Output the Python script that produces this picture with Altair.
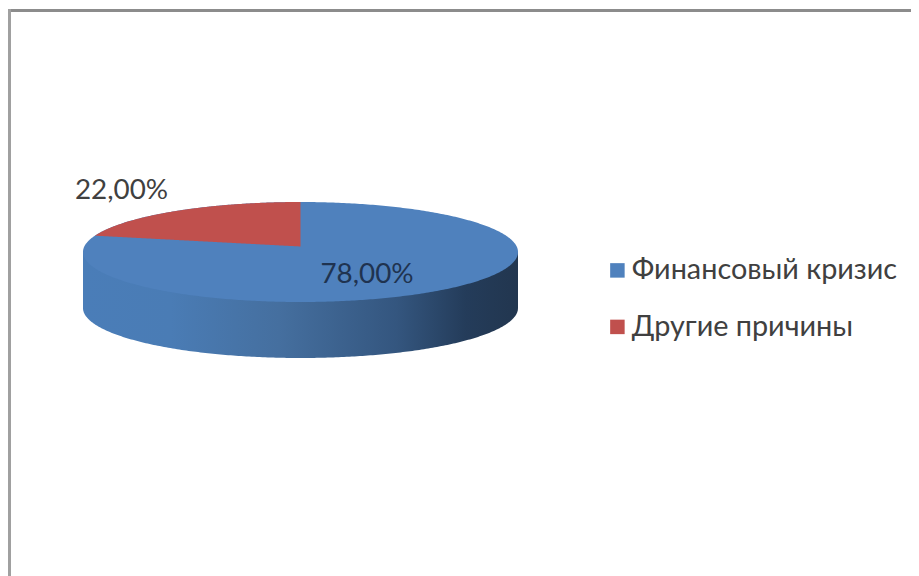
import math
import altair as alt
import pandas as pd

categories = ["Финансовый кризис", "Другие причины"]
values = [78.0, 22.0]
labels = ["78,00%", "22,00%"]
colors = ["#4f81bd", "#c0504d"]

W, H = 903, 568
CX, CY, RX, RY = 292.5, 244.0, 217.5, 50.0   # ellipse centre and radii in plot pixels
DEPTH = 1.12   # side height in ellipse units
TIP = 0.11     # perspective offset of the pie centre
FONT = "Lato"

x_scale = alt.Scale(domain=[-CX / RX, (W - CX) / RX], range=[0, W])
y_scale = alt.Scale(domain=[-(H - CY) / RY, CY / RY], range=[H, 0])

color = alt.Color(
    "cat:N",
    scale=alt.Scale(domain=categories, range=colors),
    legend=alt.Legend(
        orient="none", legendX=595, legendY=248, title=None,
        symbolType="square", symbolSize=210, symbolStrokeWidth=0, symbolOpacity=1,
        labelFont=FONT, labelFontSize=28.8, labelColor="#404040",
        labelOffset=0, rowPadding=26.5, labelLimit=400,
    ),
)

seq = alt.sequence(0, 1.0001, 0.004, as_="f")
X = alt.X("x:Q", scale=x_scale, axis=None)
Y = alt.Y("top:Q", scale=y_scale, axis=None, stack=None)

side = (
    alt.Chart(seq)
    .transform_calculate(x="cos(PI*datum.f)")
    .transform_calculate(top="0", low=f"-{DEPTH}-sqrt(max(0,1-datum.x*datum.x))")
    .mark_area(
        color=alt.Gradient(
            gradient="linear", x1=0, x2=1, y1=0, y2=0,
            stops=[
                alt.GradientStop(color="#4a7db8", offset=0.0),
                alt.GradientStop(color="#4a7cb5", offset=0.2),
                alt.GradientStop(color="#456f9f", offset=0.45),
                alt.GradientStop(color="#34567f", offset=0.72),
                alt.GradientStop(color="#243c5a", offset=0.88),
                alt.GradientStop(color="#22364f", offset=1.0),
            ],
        )
    )
    .encode(x=X, y=Y, y2="low:Q")
)

top_blue = (
    alt.Chart(seq)
    .transform_calculate(x="cos(PI*datum.f)", cat=f"'{categories[0]}'")
    .transform_calculate(top="sqrt(max(0,1-datum.x*datum.x))")
    .transform_calculate(low="-datum.top")
    .mark_area()
    .encode(x=X, y=Y, y2="low:Q", color=color)
)

# Edge of the wedge: a line from the pie centre, in the tilted projection
share = values[1] / sum(values)
slope = 1.2 / math.tan(share * 2 * math.pi)
a, b, c = 1 + slope ** 2, 2 * TIP * slope, TIP ** 2 - 1
# y = TIP + slope*u with u=-x >= 0, u^2 + y^2 = 1
u_edge = (-b + math.sqrt(b * b - 4 * a * c)) / (2 * a)

wedge = (
    alt.Chart(seq)
    .transform_calculate(x=f"-{u_edge}*datum.f", cat=f"'{categories[1]}'")
    .transform_calculate(
        top="sqrt(max(0,1-datum.x*datum.x))",
        low=f"{TIP}-{slope}*datum.x",
    )
    .mark_area()
    .encode(x=X, y=Y, y2="low:Q", color=color)
)

def label(text, px, py, col):
    return (
        alt.Chart(pd.DataFrame({"t": [text]}))
        .mark_text(font=FONT, fontSize=27.8, align="center", baseline="middle", color=col)
        .encode(text="t:N", x=alt.value(px), y=alt.value(py))
    )

lab1 = label(labels[0], 359, 267, "#1f3350")
lab2 = label(labels[1], 113.5, 182.5, "#404040")

border_top = alt.Chart(pd.DataFrame({"a": [0]})).mark_rule(color="#8c8c8c", strokeWidth=3).encode(
    x=alt.value(0), x2=alt.value(W), y=alt.value(2.5)
)
border_left = alt.Chart(pd.DataFrame({"a": [0]})).mark_rule(color="#a0a0a0", strokeWidth=3).encode(
    x=alt.value(1.5), y=alt.value(1), y2=alt.value(H)
)

chart = (
    alt.layer(side, top_blue, wedge, lab1, lab2, border_top, border_left)
    .properties(width=W, height=H, padding=0, autosize=alt.AutoSizeParams(type="none"), background="white")
    .configure_view(stroke=None)
)

chart.save("out.html", embed_options={"renderer": "svg", "actions": False})
